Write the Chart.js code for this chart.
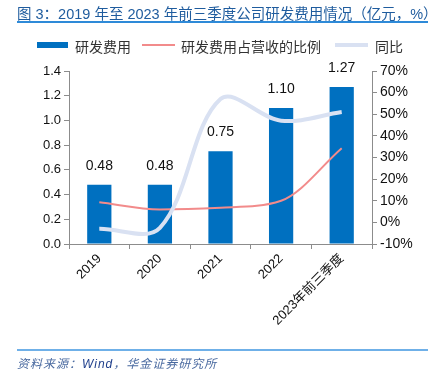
<!DOCTYPE html>
<html>
<head>
<meta charset="utf-8">
<script src="https://cdn.jsdelivr.net/npm/chart.js@4/dist/chart.umd.min.js"></script>
<style>
  html, body { margin: 0; padding: 0; background: #fff; }
  body { width: 437px; height: 374px; position: relative; overflow: hidden;
         font-family: 'Liberation Sans', 'Noto Sans CJK SC', sans-serif; }
  #chart { position: absolute; left: 0; top: 0; }
  .title { position: absolute; left: 17px; top: 2px; font-size: 14.5px; color: #1f5c9e; white-space: nowrap; }
  .rule-top { position: absolute; left: 17px; top: 21px; width: 411px; height: 2px; background: #2e8ad8; }
  .legend { position: absolute; top: 37px; left: 0; height: 18px; font-size: 14px; color: #333;
            font-family: 'Noto Sans CJK SC', sans-serif; }
  .legend span { position: absolute; top: 0; white-space: nowrap; line-height: 18px; }
  .legend i { position: absolute; display: block; }
  .rule-bottom { position: absolute; left: 17px; top: 349px; width: 411px; height: 2px; background: #6fb0e8; }
  .source { position: absolute; left: 17px; top: 354px; font-size: 12px; font-style: italic; color: #4a6aa0;
            letter-spacing: 1px; white-space: nowrap; font-family: 'Noto Sans CJK SC', sans-serif; }
  .source b { font-weight: normal; color: #1f3f8c; font-family: 'Liberation Sans', sans-serif; }
</style>
</head>
<body>
<canvas id="chart" width="437" height="374"></canvas>
<div class="title">图 3：2019 年至 2023 年前三季度公司研发费用情况（亿元，%）</div>
<div class="rule-top"></div>
<div class="legend">
  <i style="left:37px; top:5px; width:31px; height:6px; background:#0070c0;"></i>
  <span style="left:75px;">研发费用</span>
  <i style="left:142px; top:7px; width:33px; height:2px; background:#f28b8b;"></i>
  <span style="left:181px;">研发费用占营收的比例</span>
  <i style="left:335px; top:6px; width:33px; height:4px; background:#d9e1f2;"></i>
  <span style="left:375px;">同比</span>
</div>
<div class="rule-bottom"></div>
<div class="source">资料来源：<b>Wind</b>，华金证券研究所</div>

<script>
const labels = ['2019', '2020', '2021', '2022', '2023年前三季度'];
const rdExpense = [0.48, 0.48, 0.75, 1.10, 1.27];
const rdRatio = [9.3, 6.0, 6.8, 10, 34.3];
const yoyGrowth = [-3, -2.5, 57, 47, 51];

const numFont = "'Liberation Sans', 'Noto Sans CJK SC', sans-serif";
const axisColor = '#8c8c8c';

// value labels above the bars
const barLabels = {
  id: 'barLabels',
  afterDatasetsDraw(chart) {
    const ctx = chart.ctx;
    const meta = chart.getDatasetMeta(0);
    ctx.save();
    ctx.font = '14px ' + numFont;
    ctx.fillStyle = '#111';
    ctx.textAlign = 'center';
    ctx.textBaseline = 'bottom';
    meta.data.forEach((bar, i) => {
      ctx.fillText(rdExpense[i].toFixed(2), bar.x, bar.y - 12);
    });
    ctx.restore();
  }
};

new Chart(document.getElementById('chart'), {
  type: 'bar',
  data: {
    labels: labels,
    datasets: [
      {
        type: 'bar',
        label: '研发费用',
        data: rdExpense,
        backgroundColor: '#0070c0',
        categoryPercentage: 1,
        barPercentage: 0.4,
        yAxisID: 'y',
        order: 3
      },
      {
        type: 'line',
        label: '研发费用占营收的比例',
        data: rdRatio,
        borderColor: '#f28b8b',
        borderWidth: 2,
        pointRadius: 0,
        cubicInterpolationMode: 'monotone',
        yAxisID: 'y1',
        order: 2
      },
      {
        type: 'line',
        label: '同比',
        data: yoyGrowth,
        borderColor: '#d9e1f2',
        borderWidth: 4,
        pointRadius: 0,
        tension: 0.35,
        yAxisID: 'y1',
        order: 1
      }
    ]
  },
  options: {
    responsive: false,
    animation: false,
    layout: { padding: { top: 71, left: 0, right: 0, bottom: 0 } },
    plugins: {
      legend: { display: false },
      tooltip: { enabled: false }
    },
    scales: {
      x: {
        afterFit: s => { s.height = 130; },
        grid: { drawOnChartArea: false, offset: true, tickLength: 5, color: axisColor },
        border: { color: axisColor },
        ticks: {
          maxRotation: 45,
          minRotation: 45,
          padding: 2,
          color: '#111',
          font: { family: numFont, size: 13 }
        }
      },
      y: {
        position: 'left',
        min: 0,
        max: 1.4,
        afterFit: s => { s.width = 69; },
        grid: { drawOnChartArea: false, tickLength: 5, color: axisColor },
        border: { color: axisColor },
        ticks: {
          stepSize: 0.2,
          padding: 3,
          color: '#111',
          font: { family: numFont, size: 13 },
          callback: v => v.toFixed(1)
        }
      },
      y1: {
        position: 'right',
        min: -10,
        max: 70,
        afterFit: s => { s.width = 65; },
        grid: { drawOnChartArea: false, tickLength: 5, color: axisColor },
        border: { color: axisColor },
        ticks: {
          stepSize: 10,
          padding: 3,
          color: '#111',
          font: { family: numFont, size: 14 },
          callback: v => v + '%'
        }
      }
    }
  },
  plugins: [barLabels]
});
</script>
</body>
</html>
